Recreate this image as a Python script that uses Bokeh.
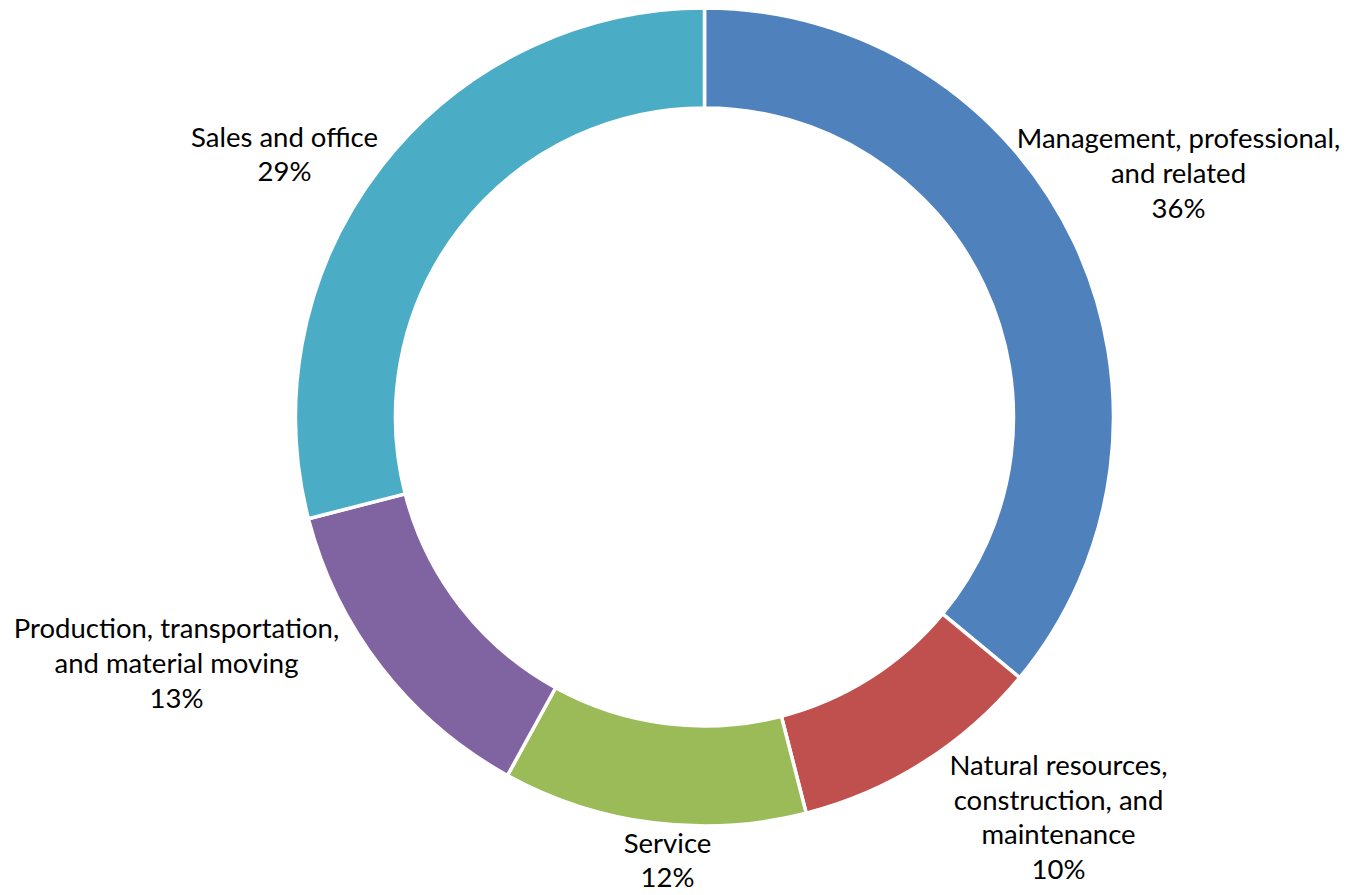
import math
from bokeh.plotting import figure
from bokeh.models import ColumnDataSource, Range1d
from bokeh.core.properties import value
from bokeh.embed import file_html
from bokeh.resources import INLINE

# ---- data ----
categories = ["Management, professional,\nand related",
              "Natural resources,\nconstruction, and\nmaintenance",
              "Service",
              "Production, transportation,\nand material moving",
              "Sales and office"]
shares = [36, 10, 12, 13, 29]
colors = ["#4F81BD", "#C0504D", "#9BBB59", "#8064A2", "#4BACC6"]

# ---- layout ----
W, H = 1347, 895
cx, cy = 704, 478.5
r_out, r_in = 409, 309
# label block centres (plot coordinates)
label_xy = [(1178, 723), (1058, 79), (667, 36), (176, 233), (284, 742)]

total = float(sum(shares))
starts, ends = [], []
cum = 0.0
for s in shares:
    starts.append(math.pi / 2 - 2 * math.pi * cum / total)
    cum += s
    ends.append(math.pi / 2 - 2 * math.pi * cum / total)

src = ColumnDataSource(dict(start=starts, end=ends, color=colors))

p = figure(width=W, height=H, output_backend="svg", toolbar_location=None,
           x_range=Range1d(0, W), y_range=Range1d(0, H), min_border=0)
p.axis.visible = False
p.grid.visible = False
p.outline_line_color = None
p.background_fill_color = "white"

p.annular_wedge(x=cx, y=cy, inner_radius=r_in, outer_radius=r_out,
                start_angle="start", end_angle="end", direction="clock",
                fill_color="color", line_color="white", line_width=3.5, source=src)

texts = [f"{c}\n{s}%" for c, s in zip(categories, shares)]
lsrc = ColumnDataSource(dict(x=[xy[0] for xy in label_xy], y=[xy[1] for xy in label_xy], t=texts))
p.text(x="x", y="y", text="t", source=lsrc, text_align="center", text_baseline="middle",
       text_font=value("Lato"), text_font_size="27.5px", text_color="#000000",
       text_line_height=1.05)

open("out.html", "w").write(file_html(p, INLINE))
